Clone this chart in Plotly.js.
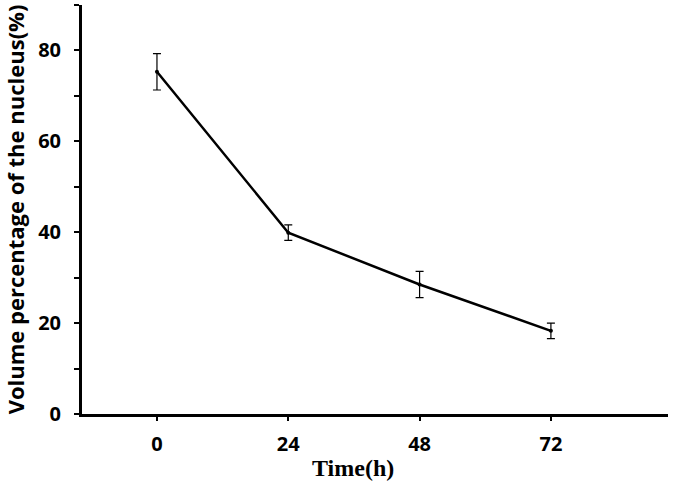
<!DOCTYPE html>
<html><head><meta charset="utf-8">
<script src="https://cdn.plot.ly/plotly-3.0.1.min.js"></script>
<style>html,body{margin:0;padding:0;background:#fff}#chart{width:675px;height:488px}</style>
</head><body><div id="chart"></div>
<script>
var timeH = [0, 24, 48, 72];
var nucleusPct = [75.3, 39.9, 28.5, 18.3];
var errPct = [4.0, 1.7, 2.9, 1.7];
var xTickLabels = ['0', '24', '48', '72'];
var yTickVals = [0, 20, 40, 60, 80];
var xTitle = 'Time(h)';
var yTitle = 'Volume percentage of the nucleus(%)';

var trace = {
  x: timeH, y: nucleusPct, type: 'scatter', mode: 'lines+markers',
  line: {color: '#000', width: 2.5},
  marker: {color: '#000', size: 4},
  error_y: {type: 'data', array: errPct, visible: true, color: '#000', thickness: 1.2, width: 4},
  showlegend: false
};
var layout = {
  width: 675, height: 488,
  margin: {l: 82, r: 7, t: 5, b: 74},
  paper_bgcolor: '#fff', plot_bgcolor: '#fff',
  xaxis: {
    range: [-13.7, 93.4], tickvals: timeH, ticktext: xTickLabels,
    showgrid: false, zeroline: false, showline: true, linecolor: '#000', linewidth: 3,
    ticks: 'outside', ticklen: 4, tickwidth: 2, tickcolor: '#000', ticklabelstandoff: 6,
    tickfont: {family: 'Open Sans, sans-serif', size: 20, color: '#000', weight: 'bold'}
  },
  yaxis: {
    range: [0, 90], tickvals: yTickVals,
    showgrid: false, zeroline: false, showline: true, linecolor: '#000', linewidth: 3,
    ticks: 'outside', ticklen: 5, tickwidth: 2, tickcolor: '#000', ticklabelstandoff: 9,
    minor: {dtick: 10, tick0: 10, ticks: 'outside', ticklen: 5, tickwidth: 2, tickcolor: '#000', showgrid: false},
    tickfont: {family: 'Open Sans, sans-serif', size: 20, color: '#000', weight: 'bold'},
    title: {text: '<b>' + yTitle + '</b>', font: {family: 'Open Sans, sans-serif', size: 22, color: '#000'}, standoff: 9}
  },
  annotations: [{
    text: '<b>' + xTitle + '</b>', xref: 'paper', yref: 'paper', x: 0.4625, y: -0.132,
    xanchor: 'center', yanchor: 'middle', showarrow: false,
    font: {family: 'Liberation Serif, Times New Roman, serif', size: 24, color: '#000'}
  }]
};
Plotly.newPlot('chart', [trace], layout, {displayModeBar: false, staticPlot: true});
</script></body></html>
